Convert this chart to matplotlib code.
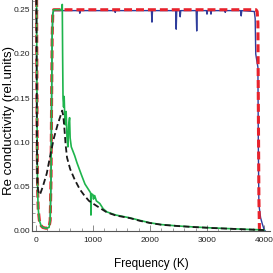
import matplotlib
matplotlib.use("Agg")
import matplotlib.pyplot as plt
from matplotlib.ticker import MultipleLocator, FormatStrFormatter

# red dashed: ideal step
red_f = [0, 10, 15, 20, 25, 30, 40, 60, 90, 120, 180, 230, 250, 265, 275, 285, 295, 310,
         3860, 3880, 3893, 3900, 3910, 3920]
red_v = [0.5, 0.3, 0.2, 0.12, 0.07, 0.045, 0.025, 0.012, 0.006, 0.004, 0.003, 0.004, 0.012,
         0.06, 0.15, 0.22, 0.245, 0.25, 0.25, 0.248, 0.235, 0.15, 0.04, 0.0]

# blue solid: plateau with dips
blue_f = [250, 265, 275, 285, 295, 310, 760, 770, 780, 1380, 1390, 1400, 2025, 2035, 2045,
          2450, 2460, 2470, 2520, 2530, 2540, 2810, 2820, 2830, 2990, 3000, 3010, 3060, 3070,
          3080, 3310, 3320, 3330, 3590, 3600, 3610, 3830, 3845, 3855, 3880, 3893, 3900, 3910,
          3940, 3970, 4000, 4020]
blue_v = [0.012, 0.06, 0.15, 0.22, 0.245, 0.249, 0.249, 0.246, 0.249, 0.249, 0.247, 0.249,
          0.249, 0.236, 0.249, 0.249, 0.228, 0.249, 0.249, 0.242, 0.249, 0.249, 0.226, 0.249,
          0.249, 0.245, 0.249, 0.249, 0.245, 0.249, 0.249, 0.247, 0.249, 0.249, 0.243, 0.249,
          0.248, 0.24, 0.2, 0.19, 0.185, 0.1, 0.03, 0.015, 0.008, 0.002, 0.0]

# black dashed
black_f = [0, 8, 14, 18, 25, 40, 70, 120, 190, 250, 315, 380, 430, 460, 480, 500, 520, 545,
           600, 680, 770, 850, 930, 1000, 1120, 1245, 1400, 1650, 1820, 2000, 2200, 2500,
           2800, 3100, 3400, 3700, 4000]
black_v = [0.4, 0.26, 0.15, 0.09, 0.055, 0.045, 0.041, 0.05, 0.065, 0.085, 0.105, 0.12,
           0.13, 0.136, 0.13, 0.115, 0.098, 0.083, 0.07, 0.058, 0.047, 0.04, 0.034, 0.031,
           0.026, 0.021, 0.0175, 0.0145, 0.0115, 0.009, 0.007, 0.0055, 0.0043, 0.0033,
           0.0025, 0.0017, 0.001]

# green solid
green_f = [0, 10, 15, 20, 25, 30, 40, 60, 90, 120, 180, 230, 250, 265, 275, 285, 295, 310,
           455, 462, 468, 475, 485, 495, 505, 515, 530, 545, 560, 575, 590, 600, 620, 650,
           680, 720, 760, 800, 860, 900, 940, 960, 965, 972, 1000, 1010, 1030, 1060, 1120,
           1180, 1245, 1400, 1650, 1820, 2000, 2200, 2500, 2800, 3100, 3400, 3700, 4000]
green_v = [0.5, 0.3, 0.2, 0.12, 0.07, 0.045, 0.025, 0.012, 0.006, 0.004, 0.003, 0.004,
           0.012, 0.06, 0.15, 0.22, 0.245, 0.25, 0.25, 0.256, 0.2, 0.15, 0.14, 0.152, 0.13,
           0.12, 0.135, 0.105, 0.095, 0.12, 0.128, 0.105, 0.095, 0.09, 0.085, 0.077, 0.07,
           0.063, 0.053, 0.049, 0.045, 0.043, 0.018, 0.042, 0.041, 0.036, 0.04, 0.034, 0.031,
           0.025, 0.0215, 0.018, 0.0148, 0.012, 0.0092, 0.0072, 0.0056, 0.0044, 0.0034,
           0.0026, 0.0018, 0.0012]

plt.rcParams['font.family'] = ['Liberation Sans', 'DejaVu Sans']

fig = plt.figure(figsize=(2.73, 2.73), dpi=100)
ax = fig.add_axes([0.117, 0.154, 0.872, 0.846])

ax.plot(blue_f, blue_v, color="#2e3d9c", lw=1.0, zorder=2)
ax.plot(red_f, red_v, color="#e8222c", lw=2.2, dashes=(2.6, 1.3), zorder=3)
ax.plot(green_f, green_v, color="#1eb44c", lw=1.2, zorder=4)
ax.plot(black_f, black_v, color="#1a1a1a", lw=1.3, dashes=(3.4, 1.8), zorder=5)

ax.set_xlim(-70, 4105)
ax.set_ylim(0, 0.261)
for s in ("top", "right"):
    ax.spines[s].set_visible(False)
for s in ("left", "bottom"):
    ax.spines[s].set_color("#555555")
    ax.spines[s].set_linewidth(0.8)

ax.xaxis.set_major_locator(MultipleLocator(1000))
ax.xaxis.set_minor_locator(MultipleLocator(200))
ax.yaxis.set_major_locator(MultipleLocator(0.05))
ax.yaxis.set_minor_locator(MultipleLocator(0.01))
ax.yaxis.set_major_formatter(FormatStrFormatter("%.2f"))
ax.tick_params(which="both", direction="in", color="#777777", labelsize=6, labelcolor="#222222")
ax.tick_params(which="major", length=4, width=0.6)
ax.tick_params(which="minor", length=2, width=0.5)
ax.tick_params(axis="y", pad=1.5)
ax.tick_params(axis="x", pad=4)

ax.set_xlabel("Frequency (K)", fontsize=8.5)
ax.xaxis.set_label_coords(0.5, -0.117)
ax.set_ylabel("Re conductivity (rel.units)", fontsize=9.5)
ax.yaxis.set_label_coords(-0.072, 0.48)

fig.savefig("out.png", dpi=100)
